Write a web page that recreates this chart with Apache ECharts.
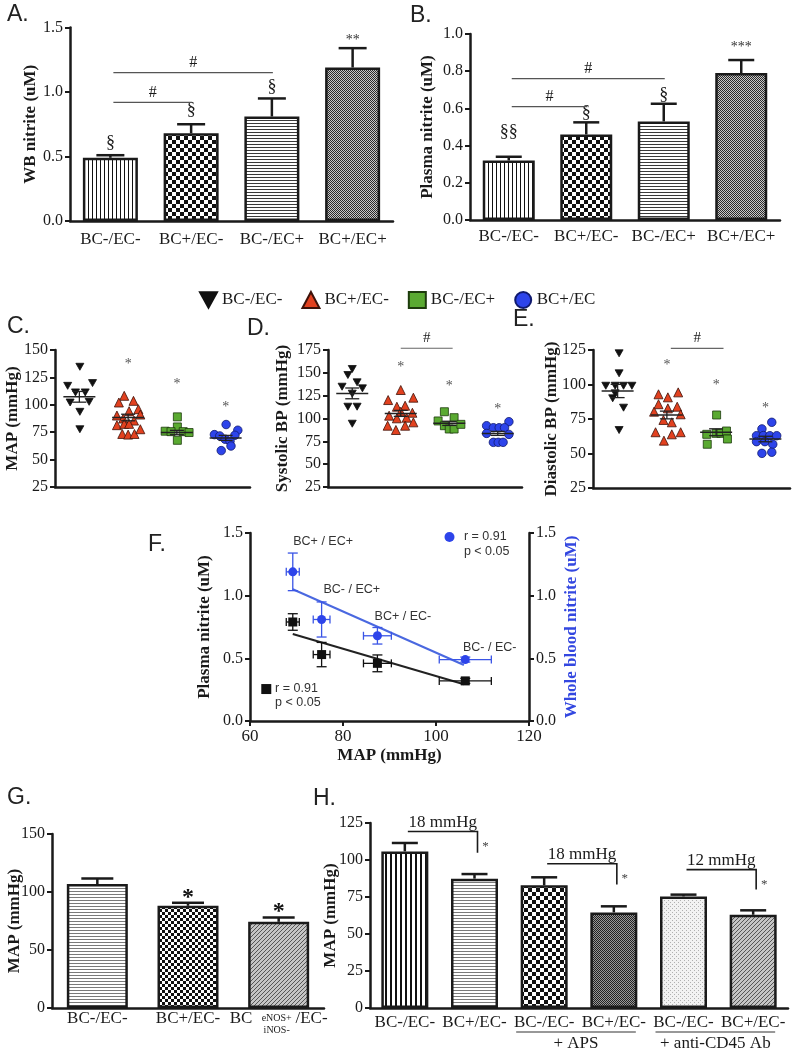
<!DOCTYPE html>
<html><head><meta charset="utf-8">
<script src="https://cdn.jsdelivr.net/npm/echarts@6.0.0/dist/echarts.min.js"></script>
<style>html,body{margin:0;padding:0;background:#fff;}#chart{width:796px;height:1050px;}</style>
</head><body><div id="chart"></div>
<script>
// ---------------- DATA ----------------
const groups = ['BC-/EC-', 'BC+/EC-', 'BC-/EC+', 'BC+/EC+'];
const legendNames = ['BC-/EC-', 'BC+/EC-', 'BC-/EC+', 'BC+/EC'];

// A: whole-blood nitrite
const A_mean = [0.49, 0.68, 0.81, 1.19];
const A_sem = [0.02, 0.07, 0.14, 0.15];
const A_marks = ['§', '§', '§', '**'];
const A_markY = [0.60, 0.86, 1.04, 1.43];
const A_hashTo = [1, 2];
const A_hashY = [0.92, 1.15];

// B: plasma nitrite
const B_mean = [0.32, 0.46, 0.53, 0.79];
const B_sem = [0.02, 0.065, 0.095, 0.07];
const B_marks = ['§§', '§', '§', '***'];
const B_markY = [0.47, 0.575, 0.672, 0.95];
const B_hashTo = [1, 2];
const B_hashY = [0.61, 0.76];

// C: MAP individual animals  [x position within group, value]
const C_pts = [
  [[1.01,134.7],[0.76,117.3],[1.27,119.8],[0.92,111.3],[1.12,111.3],[0.81,102.1],[1.20,102.7],[1.01,93.6],[1.01,77.7]],
  [[1.92,108.2],[1.81,102.1],[2.11,103.6],[2.21,96.0],[2.02,94.2],[1.77,90.2],[2.25,91.1],[1.90,87.5],[2.12,85.6],[1.77,81.4],[1.92,82.6],[2.02,82.6],[1.88,73.4],[2.00,72.8],[2.13,73.4],[2.25,77.7]],
  [[3.01,89.0],[3.01,79.8],[2.76,75.9],[2.88,75.5],[3.13,75.5],[3.25,74.7],[3.01,67.6]],
  [[4.01,82.0],[4.25,76.8],[3.77,72.8],[3.88,71.6],[4.19,72.2],[3.99,68.6],[4.09,66.8],[4.11,62.4],[3.91,58.2]]
];
const C_mean = [107.3, 88.4, 74.7, 69.8];
const C_sem = [4.9, 3.0, 2.0, 2.3];
const C_star = [null, 140.9, 122.5, 101.2];

// D: systolic BP
const D_pts = [
  [[1.00,154.2],[0.91,147.6],[1.10,139.6],[0.79,134.8],[1.21,133.0],[1.00,127.2],[0.91,112.9],[1.10,112.9],[1.00,94.3]],
  [[2.00,131.2],[1.74,120.2],[2.26,122.8],[1.92,112.9],[2.09,114.0],[2.24,106.3],[1.76,103.1],[2.00,107.4],[1.92,100.2],[2.12,100.9],[1.73,92.1],[2.09,92.1],[2.26,95.8],[1.90,87.4]],
  [[2.90,107.4],[3.10,100.9],[2.77,97.3],[2.90,92.1],[3.00,88.5],[3.10,88.5],[3.24,93.6]],
  [[4.23,96.5],[3.77,92.1],[3.91,89.9],[4.03,89.9],[4.14,89.9],[3.77,83.7],[4.23,82.6],[3.91,73.9],[4.01,73.9],[4.11,73.9]]
];
const D_mean = [127.5, 105.6, 94.7, 83.7];
const D_sem = [5.9, 3.3, 2.3, 2.2];
const D_star = [null, 160.4, 139.6, 114.0];
const D_hash = [2.0, 3.07, 176.9];

// E: diastolic BP
const E_pts = [
  [[1.03,122.6],[1.03,108.1],[0.76,99.1],[0.95,99.1],[1.12,99.1],[1.29,99.1],[0.95,93.6],[0.90,90.0],[1.12,83.2],[1.03,67.0]],
  [[1.83,92.9],[2.23,94.3],[2.02,90.7],[1.83,85.7],[2.21,83.9],[2.02,82.7],[1.74,80.3],[2.28,78.4],[1.93,74.3],[2.10,72.6],[1.77,65.4],[2.10,63.9],[2.28,65.4],[1.94,59.3]],
  [[3.01,77.9],[2.81,63.9],[3.00,64.6],[3.10,64.6],[3.21,66.3],[3.23,60.5],[2.82,56.7]],
  [[4.13,72.6],[3.93,67.8],[3.82,62.9],[3.96,63.0],[4.09,62.9],[4.23,62.9],[3.82,58.6],[3.99,58.6],[4.15,56.7],[3.93,50.1],[4.13,50.9]]
];
const E_mean = [95.3, 77.9, 65.4, 60.5];
const E_sem = [4.8, 2.8, 2.5, 2.0];
const E_star = [null, 117.0, 102.5, 85.7];
const E_hash = [2.08, 3.15, 126.2];

// F: nitrite vs MAP (order: BC-/EC-, BC+/EC-, BC-/EC+, BC+/EC+)
const F_labels = ['BC- / EC-', 'BC+ / EC-', 'BC- / EC+', 'BC+ / EC+'];
const F_map = [106.3, 87.4, 75.4, 69.2];
const F_mapErr = [5.6, 3.0, 1.8, 1.4];
const F_plasma = [0.32, 0.46, 0.53, 0.79];
const F_plasmaErr = [0.02, 0.067, 0.097, 0.066];
const F_wb = [0.49, 0.68, 0.81, 1.19];
const F_wbErr = [0.02, 0.066, 0.14, 0.15];
const F_plasmaFit = [[69.2, 0.694], [106.0, 0.293]];
const F_wbFit = [[69.2, 1.051], [106.0, 0.447]];
const F_labelX = [105.8, 86.8, 75.8, 69.3];
const F_labelY = [0.59, 0.83, 1.045, 1.43];

// G: MAP
const G_cats = ['BC-/EC-', 'BC+/EC-', 'BC eNOS+/iNOS- /EC-'];
const G_mean = [106.8, 88.1, 74.3];
const G_sem = [4.9, 2.6, 3.7];
const G_starY = [null, 95.6, 83.5];

// H: MAP with APS / anti-CD45
const H_cats = ['BC-/EC-', 'BC+/EC-', 'BC-/EC-', 'BC+/EC-', 'BC-/EC-', 'BC+/EC-'];
const H_mean = [105.8, 87.4, 82.9, 64.6, 75.4, 63.0];
const H_sem = [5.7, 3.1, 5.4, 4.1, 1.2, 3.0];
const H_brFrom = [0, 2, 4];
const H_brTo = [1, 3, 5];
const H_brY = [119.3, 97.5, 93.5];
const H_brDrop = [104.9, 83.4, 80.0];
const H_brText = ['18 mmHg', '18 mmHg', '12 mmHg'];
const H_subFrom = [2, 4];
const H_subTo = [3, 5];
const H_subText = ['+ APS', '+ anti-CD45 Ab'];

// ---------------- STYLE ----------------
const SERIF = '"Liberation Serif","Times New Roman",serif';
const SANS = '"Liberation Sans",Arial,sans-serif';
const INK = '#1a1a1a';

function pat(w, h, bg, draw) {
  const c = document.createElement('canvas');
  c.width = w; c.height = h;
  const g = c.getContext('2d');
  g.fillStyle = bg; g.fillRect(0, 0, w, h);
  draw(g);
  return { image: c, repeat: 'repeat' };
}
const P = {
  vlines: pat(4, 4, '#fff', g => { g.fillStyle = '#111'; g.fillRect(0, 0, 1, 4); }),
  vlinesBold: pat(5, 5, '#fff', g => { g.fillStyle = '#111'; g.fillRect(0, 0, 2, 5); }),
  checker: pat(8, 8, '#fff', g => { g.fillStyle = '#111'; g.fillRect(0, 0, 4, 4); g.fillRect(4, 4, 4, 4); }),
  checkerS: pat(6, 6, '#fff', g => { g.fillStyle = '#111'; g.fillRect(0, 0, 3, 3); g.fillRect(3, 3, 3, 3); }),
  hlines: pat(4, 3, '#fff', g => { g.fillStyle = '#3a3a3a'; g.fillRect(0, 0, 4, 1); }),
  hlinesGray: pat(4, 3, '#fff', g => { g.fillStyle = '#7a7a7a'; g.fillRect(0, 0, 4, 1); }),
  fine: pat(4, 4, '#c8c8c8', g => { g.fillStyle = '#2a2a2a'; g.fillRect(0, 0, 1, 1); g.fillRect(2, 0, 1, 1); g.fillRect(1, 1, 1, 1); g.fillRect(3, 1, 1, 1); g.fillRect(0, 2, 1, 1); g.fillRect(2, 2, 1, 1); g.fillRect(1, 3, 1, 1); g.fillRect(3, 3, 1, 1); }),
  fineDark: pat(4, 4, '#999', g => { g.fillStyle = '#222'; g.fillRect(0, 0, 1, 1); g.fillRect(2, 0, 1, 1); g.fillRect(1, 1, 1, 1); g.fillRect(3, 1, 1, 1); g.fillRect(0, 2, 1, 1); g.fillRect(2, 2, 1, 1); g.fillRect(1, 3, 1, 1); g.fillRect(3, 3, 1, 1); }),
  diag: pat(4, 4, '#c4c4c4', g => { g.fillStyle = '#555'; for (let i = 0; i < 4; i++) g.fillRect(i, 3 - i, 1, 1); }),
  stipple: pat(4, 4, '#f2f2f2', g => { g.fillStyle = '#b0b0b0'; g.fillRect(0, 0, 1, 1); g.fillRect(2, 2, 1, 1); })
};

const SYM = ['path://M0,0L10,0L5,9Z', 'triangle', 'rect', 'circle'];
const SYMSIZE = [[8, 7], 9, 8, 8.5];
const FILL = ['#111', '#e2411f', '#5aaa31', '#2d44ea'];
const EDGE = ['#111', '#3d1209', '#1d3b0c', '#101a6e'];

function ln(x1, y1, x2, y2, w, c) {
  return { type: 'line', shape: { x1, y1, x2, y2 }, style: { stroke: c || INK, lineWidth: w || 1.5 } };
}
function tx(x, y, text, font, opt) {
  return { type: 'text', x, y, style: Object.assign({ text, font, fill: INK, align: 'center', verticalAlign: 'middle' }, opt || {}) };
}

// ---------------- AXES ----------------
function gridDef(left, top, width, height) {
  return { left, top, width, height, containLabel: false, outerBoundsMode: 'none' };
}
const grids = [
  gridDef(70, 27.5, 323, 193.5),   // A
  gridDef(470, 34, 310, 186),      // B
  gridDef(55, 350, 195, 137),      // C
  gridDef(328, 350, 194, 137),     // D
  gridDef(593, 350, 197, 138),     // E
  gridDef(250, 533, 279, 188),     // F
  gridDef(52, 834, 272, 174),      // G
  gridDef(370, 823, 418, 185)      // H
];

const axLine = { show: true, onZero: false, lineStyle: { color: INK, width: 2.5 } };
function yAx(grid, min, max, interval, name, gap, dec, extra) {
  return Object.assign({
    type: 'value', gridIndex: grid, min, max, interval,
    name, nameLocation: 'middle', nameGap: gap, nameRotate: 90, nameMoveOverlap: false,
    nameTextStyle: { fontFamily: SERIF, fontWeight: 'bold', fontSize: 17, color: INK },
    axisLine: axLine,
    axisTick: { show: true, length: 5, inside: false, lineStyle: { color: INK, width: 2 } },
    axisLabel: { fontFamily: SERIF, fontSize: 16, color: INK, margin: 7, showMinLabel: true, showMaxLabel: true,
      formatter: v => dec ? v.toFixed(dec) : String(v) },
    splitLine: { show: false }
  }, extra || {});
}
function xCat(grid, data, margin, extraLabel) {
  return {
    type: 'category', gridIndex: grid, data,
    axisLine: axLine, axisTick: { show: false },
    axisLabel: Object.assign({ interval: 0, fontFamily: SERIF, fontSize: 17, color: INK, margin }, extraLabel || {}),
    splitLine: { show: false }
  };
}
function xHidden(grid) {
  return { type: 'value', gridIndex: grid, min: 0.5, max: 4.5, axisLine: axLine,
    axisTick: { show: false }, axisLabel: { show: false }, splitLine: { show: false } };
}

const xAxes = [
  xCat(0, groups, 10),
  xCat(1, groups, 8),
  xHidden(2), xHidden(3), xHidden(4),
  { type: 'value', gridIndex: 5, min: 60, max: 120, interval: 20,
    name: 'MAP (mmHg)', nameLocation: 'middle', nameGap: 26,
    nameTextStyle: { fontFamily: SERIF, fontWeight: 'bold', fontSize: 17, color: INK },
    axisLine: axLine, axisTick: { show: true, length: 5, lineStyle: { color: INK, width: 2 } },
    axisLabel: { fontFamily: SERIF, fontSize: 17, color: INK, margin: 7 }, splitLine: { show: false } },
  xCat(6, G_cats, 2, {
    formatter: (v, i) => i === 2 ? '{a|BC}{g|}{a|/EC-}' : '{a|' + v + '}',
    rich: { a: { fontFamily: SERIF, fontSize: 17, color: INK }, g: { width: 43 } }
  }),
  xCat(7, H_cats, 6)
];

const yAxes = [
  yAx(0, 0, 1.5, 0.5, 'WB nitrite (uM)', 31, 1),
  yAx(1, 0, 1.0, 0.2, 'Plasma nitrite (uM)', 34, 1),
  yAx(2, 25, 150, 25, 'MAP (mmHg)', 34, 0),
  yAx(3, 25, 175, 25, 'Systolic BP (mmHg)', 37, 0),
  yAx(4, 25, 125, 25, 'Diastolic BP (mmHg)', 33, 0),
  yAx(5, 0, 1.5, 0.5, 'Plasma nitrite (uM)', 37, 1),
  yAx(5, 0, 1.5, 0.5, 'Whole blood nitrite (uM)', 34, 1, {
    position: 'right',
    nameRotate: 90,
    nameTextStyle: { fontFamily: SERIF, fontWeight: 'bold', fontSize: 17, color: '#3347e0' }
  }),
  yAx(6, 0, 150, 50, 'MAP (mmHg)', 29, 0),
  yAx(7, 0, 125, 25, 'MAP (mmHg)', 31, 0)
];

// ---------------- SERIES BUILDERS ----------------
function bars(xi, yi, vals, patterns, width) {
  return {
    type: 'bar', xAxisIndex: xi, yAxisIndex: yi, barWidth: width, silent: true, z: 2,
    data: vals.map((v, i) => ({ value: v, itemStyle: { color: patterns[i] } })),
    itemStyle: { borderColor: INK, borderWidth: 2.5 }
  };
}
function barErr(xi, yi, means, sems, cap) {
  return {
    type: 'custom', xAxisIndex: xi, yAxisIndex: yi, silent: true, z: 3,
    data: means.map((m, i) => [i, m, sems[i]]),
    renderItem: (p, api) => {
      const i = api.value(0), m = api.value(1), s = api.value(2);
      const a = api.coord([i, m]), b = api.coord([i, m + s]);
      return { type: 'group', children: [ln(a[0], a[1], b[0], b[1], 2.5), ln(b[0] - cap, b[1], b[0] + cap, b[1], 2.5)] };
    }
  };
}
function starShift(t, size) { return /^\*+$/.test(t) ? size * 0.3 : 0; }

function barAnno(xi, yi, marks, markY, hashTo, hashY) {
  return {
    type: 'custom', xAxisIndex: xi, yAxisIndex: yi, silent: true, z: 6,
    data: [[0, markY[0]]],
    renderItem: (p, api) => {
      const ch = [];
      marks.forEach((t, i) => {
        const c = api.coord([i, markY[i]]);
        const star = /^\*+$/.test(t);
        const size = star ? 14 : 18;
        ch.push(tx(c[0], c[1] + starShift(t, size), t, size + 'px ' + SERIF, { fill: star ? '#333' : INK }));
      });
      hashTo.forEach((to, k) => {
        const a = api.coord([0, hashY[k]]), b = api.coord([to, hashY[k]]);
        const x1 = a[0] + 3, x2 = b[0] + 1;
        ch.push(ln(x1, a[1], x2, b[1], 1.2, '#555'));
        ch.push(tx((x1 + x2) / 2, a[1] - 10, '#', '16px ' + SERIF));
      });
      return { type: 'group', children: ch };
    }
  };
}

function scatterPanel(xi, yi, pts, means, sems, stars, hash) {
  const out = [];
  pts.forEach((arr, g) => {
    out.push({
      type: 'scatter', name: legendNames[g], xAxisIndex: xi, yAxisIndex: yi, z: 3, silent: true,
      data: arr, symbol: SYM[g], symbolSize: SYMSIZE[g],
      itemStyle: { color: FILL[g], borderColor: EDGE[g], borderWidth: 0.8, opacity: 1 }
    });
  });
  out.push({
    type: 'custom', xAxisIndex: xi, yAxisIndex: yi, silent: true, z: 5,
    data: means.map((m, i) => [i + 1, m, sems[i]]),
    renderItem: (p, api) => {
      const x = api.value(0), m = api.value(1), s = api.value(2);
      const c = api.coord([x, m]), t = api.coord([x, m + s]), b = api.coord([x, m - s]);
      return { type: 'group', children: [
        ln(c[0] - 16, c[1], c[0] + 16, c[1], 1.5, '#222'),
        ln(t[0], t[1], b[0], b[1], 1.3, '#222'),
        ln(t[0] - 7, t[1], t[0] + 7, t[1], 1.3, '#222'),
        ln(b[0] - 7, b[1], b[0] + 7, b[1], 1.3, '#222')
      ] };
    }
  });
  out.push({
    type: 'custom', xAxisIndex: xi, yAxisIndex: yi, silent: true, z: 6,
    data: [[1, means[0]]],
    renderItem: (p, api) => {
      const ch = [];
      stars.forEach((v, i) => {
        if (v == null) return;
        const c = api.coord([i + 1, v]);
        ch.push(tx(c[0], c[1] + 4, '*', '14px ' + SERIF, { fill: '#555' }));
      });
      if (hash) {
        const a = api.coord([hash[0], hash[2]]), b = api.coord([hash[1], hash[2]]);
        ch.push(ln(a[0], a[1], b[0], b[1], 1.2, '#666'));
        ch.push(tx((a[0] + b[0]) / 2, a[1] - 10, '#', '15px ' + SERIF));
      }
      return { type: 'group', children: ch };
    }
  });
  return out;
}

function xyErr(xi, yi, xs, ys, xe, ye, color) {
  return {
    type: 'custom', xAxisIndex: xi, yAxisIndex: yi, silent: true, z: 4,
    data: xs.map((x, i) => [x, ys[i], xe[i], ye[i]]),
    renderItem: (p, api) => {
      const x = api.value(0), y = api.value(1), dx = api.value(2), dy = api.value(3);
      const l = api.coord([x - dx, y]), r = api.coord([x + dx, y]);
      const t = api.coord([x, y + dy]), b = api.coord([x, y - dy]);
      const w = 1.3;
      return { type: 'group', children: [
        ln(l[0], l[1], r[0], r[1], w, color),
        ln(l[0], l[1] - 4, l[0], l[1] + 4, w, color),
        ln(r[0], r[1] - 4, r[0], r[1] + 4, w, color),
        ln(t[0], t[1], b[0], b[1], w, color),
        ln(t[0] - 5, t[1], t[0] + 5, t[1], w, color),
        ln(b[0] - 5, b[1], b[0] + 5, b[1], w, color)
      ] };
    }
  };
}

// ---------------- SERIES ----------------
const series = [];
// A
series.push(bars(0, 0, A_mean, [P.vlines, P.checker, P.hlines, P.fine], 55));
series.push(barErr(0, 0, A_mean, A_sem, 14));
series.push(barAnno(0, 0, A_marks, A_markY, A_hashTo, A_hashY));
// B
series.push(bars(1, 1, B_mean, [P.vlines, P.checker, P.hlines, P.fine], 52));
series.push(barErr(1, 1, B_mean, B_sem, 13));
series.push(barAnno(1, 1, B_marks, B_markY, B_hashTo, B_hashY));
// C, D, E
series.push(...scatterPanel(2, 2, C_pts, C_mean, C_sem, C_star, null));
series.push(...scatterPanel(3, 3, D_pts, D_mean, D_sem, D_star, D_hash));
series.push(...scatterPanel(4, 4, E_pts, E_mean, E_sem, E_star, E_hash));
// F
series.push({ type: 'line', xAxisIndex: 5, yAxisIndex: 5, data: F_plasmaFit, symbol: 'none', silent: true, z: 2,
  lineStyle: { color: '#222', width: 2 } });
series.push({ type: 'line', xAxisIndex: 5, yAxisIndex: 6, data: F_wbFit, symbol: 'none', silent: true, z: 2,
  lineStyle: { color: '#4a68e0', width: 2 } });
series.push(xyErr(5, 5, F_map, F_plasma, F_mapErr, F_plasmaErr, '#111'));
series.push(xyErr(5, 6, F_map, F_wb, F_mapErr, F_wbErr, '#3a55e6'));
series.push({ type: 'scatter', name: 'Plasma nitrite', xAxisIndex: 5, yAxisIndex: 5, silent: true, z: 5,
  data: F_map.map((x, i) => [x, F_plasma[i]]), symbol: 'rect', symbolSize: 9, itemStyle: { color: '#111', opacity: 1 } });
series.push({ type: 'scatter', name: 'Whole blood nitrite', xAxisIndex: 5, yAxisIndex: 6, silent: true, z: 5,
  data: F_map.map((x, i) => [x, F_wb[i]]), symbol: 'circle', symbolSize: 9, itemStyle: { color: '#2d44ea', opacity: 1 } });
series.push({
  type: 'custom', xAxisIndex: 5, yAxisIndex: 5, silent: true, z: 6, data: [[80, 0.5]],
  renderItem: (p, api) => {
    const ch = [];
    const lf = '12.5px ' + SANS;
    F_labels.forEach((t, i) => {
      const c = api.coord([F_labelX[i], F_labelY[i]]);
      ch.push(tx(c[0], c[1], t, lf, { align: 'left', fill: '#333' }));
    });
    const bd = api.coord([102.9, 1.468]);
    ch.push({ type: 'circle', shape: { cx: bd[0], cy: bd[1], r: 5 }, style: { fill: '#2d44ea' } });
    const b1 = api.coord([106, 1.468]), b2 = api.coord([106, 1.35]);
    ch.push(tx(b1[0], b1[1], 'r = 0.91', lf, { align: 'left', fill: '#333' }));
    ch.push(tx(b2[0], b2[1], 'p < 0.05', lf, { align: 'left', fill: '#333' }));
    const kd = api.coord([63.5, 0.255]);
    ch.push({ type: 'rect', shape: { x: kd[0] - 5, y: kd[1] - 5, width: 10, height: 10 }, style: { fill: '#111' } });
    const k1 = api.coord([65.4, 0.255]), k2 = api.coord([65.4, 0.144]);
    ch.push(tx(k1[0], k1[1], 'r = 0.91', lf, { align: 'left', fill: '#333' }));
    ch.push(tx(k2[0], k2[1], 'p < 0.05', lf, { align: 'left', fill: '#333' }));
    return { type: 'group', children: ch };
  }
});
// G
series.push(bars(6, 7, G_mean, [P.hlinesGray, P.checkerS, P.diag], 61));
series.push(barErr(6, 7, G_mean, G_sem, 16));
series.push({
  type: 'custom', xAxisIndex: 6, yAxisIndex: 7, silent: true, z: 6, data: [[0, 50]],
  renderItem: (p, api) => {
    const ch = [];
    G_starY.forEach((v, i) => {
      if (v == null) return;
      const c = api.coord([i, v]);
      ch.push(tx(c[0], c[1] + 1, '*', 'bold 24px ' + SERIF, { fill: '#111' }));
    });
    const base = api.coord([2, 0]);
    ch.push(tx(base[0] - 2, base[1] + 10, 'eNOS+', '10px ' + SERIF));
    ch.push(tx(base[0] - 2, base[1] + 22, 'iNOS-', '10px ' + SERIF));
    return { type: 'group', children: ch };
  }
});
// H
series.push(bars(7, 8, H_mean, [P.vlinesBold, P.hlinesGray, P.checker, P.fineDark, P.stipple, P.diag], 47));
series.push(barErr(7, 8, H_mean, H_sem, 13));
series.push({
  type: 'custom', xAxisIndex: 7, yAxisIndex: 8, silent: true, z: 6, data: [[0, 50]],
  renderItem: (p, api) => {
    const ch = [];
    H_brFrom.forEach((f, k) => {
      const a = api.coord([f, H_brY[k]]), b = api.coord([H_brTo[k], H_brY[k]]), d = api.coord([H_brTo[k], H_brDrop[k]]);
      const x1 = a[0] + 3, x2 = b[0] + 3;
      ch.push({ type: 'polyline', shape: { points: [[x1, a[1]], [x2, a[1]], [x2, d[1]]] },
        style: { stroke: INK, lineWidth: 1.6, fill: null } });
      ch.push(tx((x1 + x2) / 2, a[1] - 9, H_brText[k], '17px ' + SERIF));
      ch.push(tx(x2 + 8, a[1] + 15, '*', '13px ' + SERIF, { fill: '#444' }));
    });
    H_subFrom.forEach((f, k) => {
      const a = api.coord([f, 0]), b = api.coord([H_subTo[k], 0]);
      const x1 = a[0] - 28, x2 = b[0] + 22;
      ch.push(ln(x1, a[1] + 24, x2, a[1] + 24, 1.2, '#333'));
      ch.push(tx((x1 + x2) / 2, a[1] + 36, H_subText[k], '17px ' + SERIF));
    });
    return { type: 'group', children: ch };
  }
});

// ---------------- PANEL LABELS ----------------
const panelLabels = [['A.', 7, 15], ['B.', 410, 16], ['C.', 7, 327], ['D.', 247, 329],
  ['E.', 513, 320], ['F.', 148, 545], ['G.', 7, 798], ['H.', 313, 799]];

const chart = echarts.init(document.getElementById('chart'), null, { renderer: 'canvas' });
chart.setOption({
  animation: false,
  backgroundColor: '#fff',
  legend: {
    top: 286, left: 194, itemWidth: 17, itemHeight: 16, itemGap: 19, selectedMode: false,
    textStyle: { fontFamily: SERIF, fontSize: 17, color: INK },
    data: [
      { name: legendNames[0], icon: 'path://M0,0L10,0L5,9Z' },
      { name: legendNames[1], icon: 'triangle' },
      { name: legendNames[2], icon: 'rect' },
      { name: legendNames[3], icon: 'circle' }
    ]
  },
  graphic: panelLabels.map(([t, x, y]) => ({
    type: 'text', x, y, silent: true,
    style: { text: t, font: '23px ' + SANS, fill: '#222', verticalAlign: 'middle' }
  })),
  grid: grids,
  xAxis: xAxes,
  yAxis: yAxes,
  series
});
</script></body></html>
